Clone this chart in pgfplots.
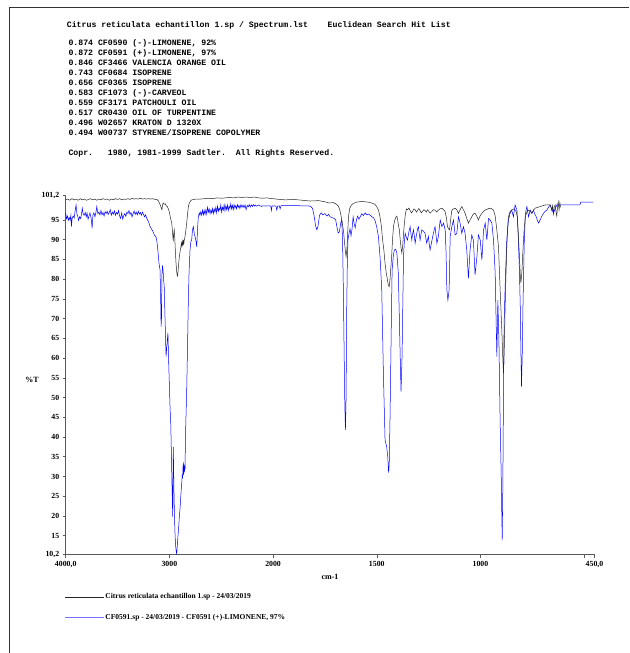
\documentclass[border=0pt]{standalone}
\usepackage{pgfplots}
\pgfplotsset{compat=1.18}
\usepackage{pgfplotstable}
\usepackage{fontspec}
\usepackage{graphicx}
\setmainfont{Liberation Serif}
\newfontfamily\monof{Liberation Mono}

\pgfplotstableread{
wn T
4000 100.1
3980 100.3
3960 100.0
3940 100.4
3920 100.1
3900 100.3
3880 100.0
3860 100.4
3840 100.1
3820 100.3
3800 100.0
3780 100.2
3760 100.4
3740 100.1
3720 100.3
3700 100.0
3680 100.3
3660 100.1
3640 100.4
3620 100.2
3600 100.3
3580 100.0
3560 100.3
3540 100.1
3520 100.4
3500 100.2
3480 100.4
3460 100.1
3440 100.3
3420 100.2
3400 100.4
3380 100.2
3360 100.5
3340 100.3
3320 100.4
3300 100.3
3280 100.5
3260 100.3
3240 100.4
3220 100.3
3200 100.4
3180 100.3
3160 100.4
3140 100.2
3120 100.2
3105 99.8
3095 99.2
3085 98.6
3078 98.0
3072 97.6
3066 98.8
3060 99.3
3050 99.0
3040 99.1
3030 98.6
3020 98.4
3010 97.8
3000 97.0
2992 95.8
2985 95.0
2977 94.2
2970 92.0
2965 90.2
2962 89.9
2958 91.5
2953 92.5
2949 91.0
2944 88.0
2940 86.0
2936 84.1
2930 82.0
2925 81.0
2921 80.8
2917 81.8
2912 83.5
2904 85.7
2897 87.0
2890 88.0
2884 89.2
2879 88.4
2874 89.6
2869 88.5
2865 89.9
2861 88.8
2857 89.8
2853 90.3
2849 90.8
2843 92.0
2838 93.2
2833 94.2
2825 96.5
2817 98.4
2809 99.2
2801 99.6
2790 100.0
2770 100.2
2740 100.3
2700 100.3
2660 100.4
2620 100.5
2580 100.4
2540 100.6
2500 100.5
2460 100.6
2420 100.7
2380 100.6
2340 100.8
2300 100.7
2260 100.8
2220 100.7
2180 100.8
2140 100.6
2100 100.5
2060 100.6
2020 100.4
2000 100.4
1970 100.2
1940 100.1
1900 100.2
1860 100.0
1820 99.8
1780 99.9
1750 99.6
1730 99.3
1710 99.4
1695 99.0
1685 98.5
1678 97.5
1672 96.0
1666 94.2
1660 92.0
1655 89.0
1651 87.0
1648 85.7
1644 87.5
1640 92.0
1636 96.0
1630 98.0
1622 98.8
1612 99.2
1600 99.5
1585 99.6
1570 99.7
1555 99.6
1540 99.5
1525 99.3
1510 99.0
1500 98.4
1492 97.5
1485 96.0
1478 93.5
1472 90.0
1466 87.5
1460 84.0
1454 81.5
1449 80.0
1444 78.4
1440 78.1
1436 80.0
1432 83.0
1428 86.0
1424 90.0
1419 93.5
1413 95.0
1407 95.8
1403 96.0
1399 95.0
1395 93.5
1391 92.5
1387 90.0
1383 88.0
1379 86.6
1375 88.5
1371 91.5
1367 94.0
1362 96.5
1357 97.8
1351 97.6
1345 98.0
1339 97.4
1333 96.8
1327 97.2
1321 97.8
1315 97.6
1309 97.0
1303 97.4
1297 97.9
1291 97.4
1285 96.8
1279 97.2
1273 97.6
1267 97.4
1261 97.0
1255 97.6
1249 97.2
1243 96.7
1235 97.1
1227 97.6
1219 97.5
1211 97.0
1203 97.5
1195 97.8
1186 98.0
1178 97.6
1170 97.1
1164 95.5
1159 93.3
1154 92.8
1149 92.5
1144 95.0
1138 97.5
1130 97.8
1122 98.0
1114 97.6
1106 96.7
1098 97.6
1090 98.4
1082 97.6
1074 96.7
1066 95.4
1058 94.2
1050 95.0
1042 95.8
1034 96.5
1026 96.7
1018 96.0
1010 95.0
1002 96.0
993 96.7
985 97.2
977 97.5
965 97.8
953 98.0
945 97.8
937 97.5
929 96.0
921 92.5
913 88.2
905 77.3
897 67.1
893 61.0
889 56.1
885 63.0
881 73.0
877 81.0
873 88.2
869 93.0
865 95.8
857 97.2
849 97.5
841 97.8
833 97.5
827 97.0
822 95.8
817 91.0
812 85.7
808 81.0
805 79.0
800 82.0
795 87.4
790 92.0
784 95.8
776 97.0
768 97.5
760 97.2
752 96.7
744 97.5
736 98.0
724 98.2
712 98.4
700 98.6
688 98.8
676 98.8
664 98.8
660 98.2
656 97.4
652 98.6
648 96.5
644 98.4
640 98.8
636 97.2
632 96.0
628 98.6
625 99.6
621 97.5
617 99.4
614 98.2
}\sampletab

\pgfplotstableread{
wn T
4000 96.8
3992 95.3
3982 96.0
3975 94.9
3966 95.6
3958 95.0
3950 96.2
3945 93.3
3938 95.4
3928 96.0
3918 95.5
3908 97.5
3900 98.8
3892 96.5
3884 96.0
3875 94.9
3866 95.8
3856 95.4
3848 96.4
3840 98.0
3832 96.6
3822 96.2
3812 96.9
3802 95.8
3794 96.8
3784 95.2
3776 95.9
3766 96.8
3755 95.5
3745 92.9
3738 96.2
3728 96.8
3718 95.8
3708 97.0
3700 98.4
3690 96.6
3680 97.0
3670 96.3
3660 97.4
3650 96.3
3640 96.9
3630 96.0
3620 97.1
3610 96.6
3600 97.2
3590 96.4
3580 96.9
3570 97.6
3560 96.2
3550 97.0
3540 96.5
3530 97.3
3520 96.2
3510 96.9
3500 96.5
3490 97.4
3480 96.0
3470 95.4
3460 96.8
3450 95.2
3440 96.1
3430 96.6
3420 95.9
3410 97.0
3400 96.6
3390 97.4
3380 96.4
3370 96.9
3360 95.8
3350 96.6
3340 97.3
3330 96.4
3320 97.0
3310 96.3
3300 97.2
3290 96.5
3280 96.9
3270 96.2
3260 97.0
3250 96.4
3240 95.8
3230 96.3
3220 95.5
3210 95.0
3200 94.5
3190 93.6
3180 93.0
3170 92.6
3160 92.2
3150 91.5
3140 91.0
3130 90.8
3120 89.5
3110 87.0
3100 84.0
3090 82.3
3084 75.0
3080 68.0
3076 70.0
3072 81.0
3066 83.5
3060 82.0
3055 79.5
3050 78.5
3045 73.0
3040 68.0
3034 62.0
3032 60.4
3026 62.5
3020 64.5
3014 66.4
3008 60.0
3000 53.0
2993 47.0
2987 43.6
2980 35.0
2975 28.0
2970 22.0
2968 19.8
2965 30.0
2962 37.5
2958 30.0
2955 25.0
2950 19.0
2945 15.0
2940 12.5
2935 11.2
2930 10.4
2926 11.5
2920 14.0
2912 16.5
2904 19.8
2897 22.0
2890 25.0
2885 27.0
2881 28.3
2876 30.5
2872 29.5
2868 33.0
2865 33.3
2862 30.5
2858 33.0
2853 31.5
2849 32.0
2845 40.0
2840 45.0
2833 51.9
2825 63.0
2817 74.7
2810 82.0
2801 87.4
2793 89.5
2785 90.0
2777 92.5
2769 93.3
2760 91.5
2750 90.5
2743 89.5
2736 88.2
2728 93.0
2721 95.8
2712 96.8
2705 96.2
2697 97.1
2688 96.2
2680 97.5
2672 96.3
2664 97.4
2656 96.4
2648 97.6
2640 96.5
2632 98.2
2624 97.0
2616 97.8
2608 96.6
2600 97.5
2592 96.8
2584 97.9
2576 96.6
2568 97.8
2560 97.0
2552 98.2
2544 96.8
2536 98.5
2528 97.2
2520 98.0
2512 97.4
2504 98.8
2496 97.0
2488 98.2
2480 97.5
2472 98.9
2464 97.3
2456 98.6
2448 97.6
2440 98.8
2432 97.4
2424 98.5
2416 97.9
2408 99.1
2400 97.8
2392 98.7
2384 97.6
2376 98.9
2368 98.0
2360 98.6
2352 97.8
2344 98.9
2336 98.2
2328 98.7
2320 97.9
2310 98.9
2300 98.2
2290 98.8
2280 98.1
2270 98.8
2260 97.6
2250 98.7
2240 98.3
2230 98.9
2220 98.3
2210 98.8
2200 98.4
2190 98.9
2180 98.5
2170 98.8
2160 98.5
2150 98.6
2140 98.8
2130 98.6
2120 98.6
2110 98.4
2100 98.6
2090 98.6
2080 98.6
2070 98.5
2060 98.6
2050 98.6
2040 98.6
2030 98.6
2022 98.5
2016 97.4
2010 98.5
2004 98.6
1998 98.5
1992 98.6
1986 98.5
1982 97.5
1978 98.5
1970 98.6
1966 97.8
1962 98.6
1950 98.7
1930 98.7
1900 98.7
1870 98.6
1840 98.6
1820 98.5
1810 98.0
1802 96.0
1795 93.5
1789 92.5
1783 93.5
1776 96.2
1768 96.8
1760 96.3
1750 96.6
1740 96.0
1732 96.4
1725 95.8
1715 95.6
1705 95.4
1698 95.0
1692 93.2
1686 91.7
1680 92.0
1674 94.2
1669 95.0
1665 90.0
1661 77.0
1657 60.0
1654 48.0
1651 41.8
1648 50.0
1645 72.0
1642 84.0
1639 89.9
1634 91.5
1629 92.8
1624 91.0
1619 92.8
1614 95.8
1609 94.0
1604 93.0
1598 95.0
1592 96.0
1586 95.2
1580 95.8
1572 96.6
1564 96.1
1556 96.8
1548 96.3
1540 96.5
1532 96.2
1524 95.8
1516 95.6
1508 94.8
1500 93.2
1492 90.8
1484 85.5
1476 77.3
1468 56.1
1460 39.2
1452 37.5
1447 35.0
1443 31.0
1440 33.0
1436 45.0
1432 60.4
1429 72.0
1426 82.3
1420 86.0
1415 87.4
1409 87.6
1403 86.6
1396 81.5
1391 70.0
1387 60.4
1383 51.5
1378 60.4
1374 75.0
1371 85.7
1367 89.5
1363 91.6
1357 90.5
1352 89.9
1345 92.0
1339 93.3
1335 91.5
1331 89.9
1327 91.5
1323 92.5
1319 91.0
1315 89.1
1311 90.5
1307 91.6
1303 92.8
1299 93.3
1295 91.5
1291 89.9
1287 91.3
1283 92.5
1275 92.2
1267 91.6
1263 90.3
1259 89.1
1255 90.0
1251 90.8
1247 89.0
1243 87.4
1235 89.5
1227 91.6
1219 93.3
1214 91.0
1210 89.1
1203 90.8
1198 93.2
1194 95.0
1186 93.3
1178 94.2
1170 92.5
1166 87.0
1162 77.3
1157 74.7
1151 77.3
1148 85.0
1146 90.8
1138 93.3
1130 95.0
1122 91.2
1114 91.6
1106 95.8
1098 94.2
1090 91.6
1082 93.3
1074 91.6
1066 87.4
1058 80.2
1050 87.4
1042 91.2
1034 89.9
1026 81.1
1017 85.7
1010 91.2
1001 89.9
993 84.9
985 92.5
977 94.2
969 89.9
961 95.4
953 95.0
945 94.2
937 89.9
929 81.5
921 60.4
916 74.7
911 64.6
905 43.5
900 30.8
897 20.0
895 13.9
892 28.0
890 43.5
886 68.8
879 81.5
873 89.9
865 95.0
857 96.7
849 97.5
841 95.8
833 98.8
824 97.5
817 89.9
812 82.0
808 73.0
805 62.0
802 52.8
798 62.0
795 73.0
789 89.1
783 96.7
776 98.4
768 95.8
760 97.5
752 96.7
744 97.5
738 96.5
731 95.8
726 95.0
720 94.2
712 95.0
704 96.0
696 96.7
688 97.2
680 97.5
672 98.2
664 98.8
656 97.8
648 96.7
640 97.8
632 98.8
616 98.8
600 98.8
580 98.8
560 98.8
540 98.8
520 98.8
517 99.5
455 99.5
}\limonenetab

\newcommand\hdr{\monof\bfseries\fontsize{8.2}{9}\selectfont}

\begin{document}
\begin{tikzpicture}[x=1pt,y=1pt]
\path[use as bounding box] (0,0) rectangle (629,653);
\draw[black!80, line width=0.8pt] (9,0) -- (9,646) -- (629,646);

\node[anchor=west, inner sep=0] at (66.7,628) {\hdr Citrus reticulata echantillon 1.sp / Spectrum.lst\ \ \ \ Euclidean Search Hit List};
\node[anchor=west, inner sep=0] at (68.3,609.7) {\hdr 0.874 CF0590 (-)-LIMONENE, 92\%};
\node[anchor=west, inner sep=0] at (68.3,599.8) {\hdr 0.872 CF0591 (+)-LIMONENE, 97\%};
\node[anchor=west, inner sep=0] at (68.3,589.8) {\hdr 0.846 CF3466 VALENCIA ORANGE OIL};
\node[anchor=west, inner sep=0] at (68.3,579.9) {\hdr 0.743 CF0684 ISOPRENE};
\node[anchor=west, inner sep=0] at (68.3,569.9) {\hdr 0.656 CF0365 ISOPRENE};
\node[anchor=west, inner sep=0] at (68.3,560.0) {\hdr 0.583 CF1073 (-)-CARVEOL};
\node[anchor=west, inner sep=0] at (68.3,550.1) {\hdr 0.559 CF3171 PATCHOULI OIL};
\node[anchor=west, inner sep=0] at (68.3,540.1) {\hdr 0.517 CR0430 OIL OF TURPENTINE};
\node[anchor=west, inner sep=0] at (68.3,530.2) {\hdr 0.496 W02657 KRATON D 1320X};
\node[anchor=west, inner sep=0] at (68.3,520.3) {\hdr 0.494 W00737 STYRENE/ISOPRENE COPOLYMER};
\node[anchor=west, inner sep=0] at (68.3,499.7) {\hdr Copr.\ \ \ 1980, 1981-1999 Sadtler.\ \ All Rights Reserved.};

\node[inner sep=0] at (32,273) {\bfseries\fontsize{8}{9}\selectfont \%T};
\node[inner sep=0] at (330,76) {\bfseries\fontsize{8}{9}\selectfont cm-1};

\begin{axis}[
  at={(65.7pt,98.4pt)}, anchor=south west,
  scale only axis, width=528.8pt, height=359.1pt,
  xmin=0, xmax=2550, ymin=10.2, ymax=101.2,
  axis lines*=left,
  axis line style={black!65, line width=0.6pt},
  xtick={0,500,1000,1500,2000,2500,2550},
  xticklabels={{4000,0},3000,2000,1500,1000,{},{450,0}},
  ytick={10.2,15,20,25,30,35,40,45,50,55,60,65,70,75,80,85,90,95,101.2},
  yticklabels={{10,2},15,20,25,30,35,40,45,50,55,60,65,70,75,80,85,90,95,{101,2}},
  tick align=outside, major tick length=3pt,
  tick style={black!65, line width=0.5pt},
  ticklabel style={font=\bfseries\fontsize{7.8}{8}\selectfont},
  legend style={at={(-0.0023,-0.105)}, anchor=north west, draw=none, fill=none,
    inner sep=0pt, row sep=12pt, font=\bfseries\fontsize{7.5}{8}\selectfont,
    cells={anchor=west}, nodes={inner sep=1pt}},
  legend image code/.code={\draw[#1] (0pt,0pt) -- (39pt,0pt);},
]
\addplot[blue, line width=0.5pt, forget plot] table[x expr={ifthenelse(\thisrow{wn}>2000,(4000-\thisrow{wn})/2,3000-\thisrow{wn})}, y=T] {\limonenetab};
\addplot[black!85, line width=0.5pt] table[x expr={ifthenelse(\thisrow{wn}>2000,(4000-\thisrow{wn})/2,3000-\thisrow{wn})}, y=T] {\sampletab};
\addlegendentry{Citrus reticulata echantillon 1.sp - 24/03/2019}
\addlegendimage{blue!55, line width=0.8pt}
\addlegendentry{CF0591.sp - 24/03/2019 - CF0591 (+)-LIMONENE, 97\%}
\end{axis}
\end{tikzpicture}
\end{document}
